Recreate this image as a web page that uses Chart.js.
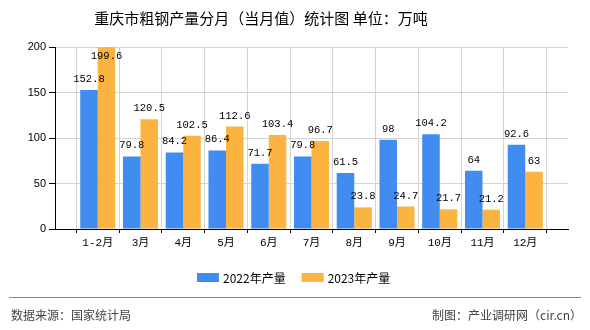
<!DOCTYPE html>
<html>
<head>
<meta charset="utf-8">
<script src="https://cdn.jsdelivr.net/npm/chart.js@4.4.1/dist/chart.umd.min.js"></script>
<style>
  html, body { margin: 0; padding: 0; background: #fff; }
</style>
</head>
<body>
<canvas id="chart" width="590" height="330"></canvas>
<script>
// chart data
const months = ["1-2月", "3月", "4月", "5月", "6月", "7月", "8月", "9月", "10月", "11月", "12月"];
const output2022 = [152.8, 79.8, 84.2, 86.4, 71.7, 79.8, 61.5, 98, 104.2, 64, 92.6];
const output2023 = [199.6, 120.5, 102.5, 112.6, 103.4, 96.7, 23.8, 24.7, 21.7, 21.2, 63];
const seriesNames = ["2022年产量", "2023年产量"];
const yTicks = [0, 50, 100, 150, 200];
const titleText = "重庆市粗钢产量分月（当月值）统计图 单位：万吨";
const sourceText = "数据来源：国家统计局";
const makerText = "制图：产业调研网（cir.cn）";

// one empty slot on each side, like the original plot
const pad = arr => [null].concat(arr, [null]);

const cjk = '"Noto Sans CJK SC", sans-serif';

// value labels above the bars
const valueLabels = {
  id: "valueLabels",
  afterDatasetsDraw(chart) {
    const ctx = chart.ctx;
    const top = chart.chartArea.top;
    ctx.save();
    ctx.font = '10.5px "Liberation Mono", monospace';
    ctx.fillStyle = "#000";
    ctx.textAlign = "center";
    ctx.textBaseline = "alphabetic";
    chart.data.datasets.forEach((ds, i) => {
      chart.getDatasetMeta(i).data.forEach((bar, j) => {
        const v = ds.data[j];
        if (v === null) return;
        let y = bar.y - 8;
        if (y - 8 < top + 4) y = top + 12;
        ctx.fillText(String(v), bar.x, y);
      });
    });
    ctx.restore();
  }
};

// title, legend and footer
const decorations = {
  id: "decorations",
  beforeDraw(chart) {
    const ctx = chart.ctx;
    ctx.save();
    ctx.fillStyle = "#fff";
    ctx.fillRect(0, 0, chart.width, chart.height);
    ctx.restore();
  },
  afterDraw(chart) {
    const ctx = chart.ctx;
    ctx.save();
    ctx.fillStyle = "#000";
    ctx.font = "15px " + cjk;
    ctx.textAlign = "center";
    ctx.textBaseline = "middle";
    ctx.fillText(titleText, 261, 18);

    // legend
    ctx.font = "12px " + cjk;
    ctx.textAlign = "left";
    let x = 197;
    chart.data.datasets.forEach(ds => {
      ctx.fillStyle = ds.backgroundColor;
      ctx.fillRect(x, 273, 22, 9);
      ctx.fillStyle = "#000";
      ctx.fillText(ds.label, x + 26, 278);
      x += 26 + ctx.measureText(ds.label).width + 16;
    });

    // footer
    ctx.strokeStyle = "#888";
    ctx.lineWidth = 1;
    ctx.beginPath();
    ctx.moveTo(9, 297.5);
    ctx.lineTo(581, 297.5);
    ctx.stroke();
    ctx.fillStyle = "#444";
    ctx.font = "12px " + cjk;
    ctx.textAlign = "left";
    ctx.fillText(sourceText, 11, 315);
    ctx.textAlign = "right";
    ctx.fillText(makerText, 582, 315);
    ctx.restore();
  }
};

const ctx = document.getElementById("chart");
const myChart = new Chart(ctx, {
  type: "bar",
  data: {
    labels: pad(months).map(m => m === null ? "" : m),
    datasets: [
      {
        label: seriesNames[0],
        data: pad(output2022),
        backgroundColor: "#418CF0",
        categoryPercentage: 0.82,
        barPercentage: 1
      },
      {
        label: seriesNames[1],
        data: pad(output2023),
        backgroundColor: "#FCB441",
        categoryPercentage: 0.82,
        barPercentage: 1
      }
    ]
  },
  options: {
    responsive: false,
    animation: false,
    devicePixelRatio: 1,
    layout: { padding: { top: 47, right: 22, left: 0, bottom: 0 } },
    plugins: {
      legend: { display: false },
      title: { display: false },
      tooltip: { enabled: false }
    },
    scales: {
      x: {
        offset: false,
        grid: { color: "#d4d4d4", tickColor: "#000", tickLength: 4 },
        border: { color: "#000" },
        ticks: {
          color: "#000",
          font: { family: '"Liberation Mono", "Noto Sans CJK SC", monospace', size: 11 },
          padding: 3,
          autoSkip: false,
          maxRotation: 0
        },
        afterFit: scale => { scale.height = 101; }
      },
      y: {
        min: 0,
        max: 200,
        grid: { color: "#d4d4d4", tickColor: "#000", tickLength: 6 },
        border: { color: "#000" },
        ticks: {
          color: "#000",
          font: { family: '"Liberation Sans", Arial, sans-serif', size: 11 },
          padding: 3
        },
        afterBuildTicks: scale => { scale.ticks = yTicks.map(v => ({ value: v })); },
        afterFit: scale => { scale.width = 55; }
      }
    }
  },
  plugins: [decorations, valueLabels]
});
</script>
</body>
</html>
